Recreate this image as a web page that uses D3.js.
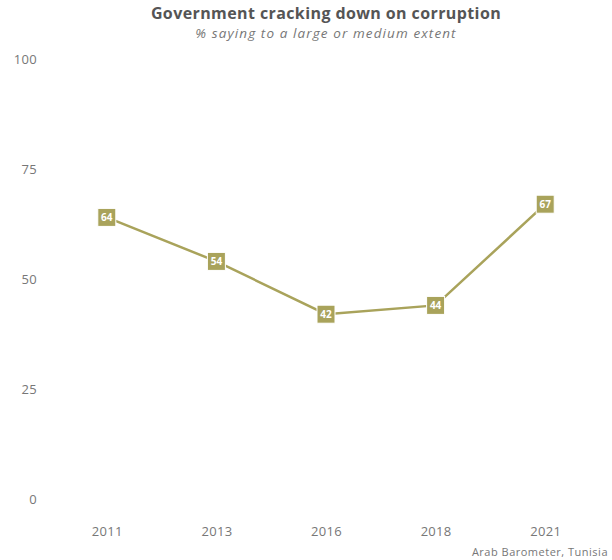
<!DOCTYPE html>
<html>
<head>
<meta charset="utf-8">
<script src="https://cdn.jsdelivr.net/npm/d3@7"></script>
<style>
    body { margin: 0; background: #ffffff; }
    text { font-family: "Open Sans", "Lato", sans-serif; }
</style>
</head>
<body>
<svg id="chart"></svg>
<script>
// Data
let years = ["2011", "2013", "2016", "2018", "2021"];
let values = [64, 54, 42, 44, 67];
let yTicks = [0, 25, 50, 75, 100];

let width = 612;
let height = 560;

let margin = { top: 59, right: 12, bottom: 61, left: 52 };

let color = "#a9a35b";

let svg = d3.select("#chart")
    .attr("width", width)
    .attr("height", height);

// Scales
let xScale = d3.scalePoint()
    .domain(years)
    .range([margin.left, width - margin.right])
    .padding(0.5);

let yScale = d3.scaleLinear()
    .domain([0, 100])
    .range([height - margin.bottom, margin.top]);

// Y axis (labels only)
let yAxis = svg.append("g")
    .attr("transform", `translate(${margin.left - 15}, 0)`)
    .call(d3.axisLeft(yScale).tickValues(yTicks).tickSize(0).tickPadding(0));
yAxis.select(".domain").remove();
yAxis.selectAll("text")
    .attr("fill", "#777")
    .style("font-size", "13px")
    .style("letter-spacing", "0.3px")
    .attr("dy", "0.32em");

// X axis (labels only)
let xAxis = svg.append("g")
    .attr("transform", `translate(0, ${height - margin.bottom + 33})`)
    .call(d3.axisBottom(xScale).tickSize(0).tickPadding(0));
xAxis.select(".domain").remove();
xAxis.selectAll("text")
    .attr("fill", "#777")
    .style("font-size", "13px")
    .style("letter-spacing", "0.3px")
    .attr("dy", "0.32em");

// Line
let line = d3.line()
    .x((d, i) => xScale(years[i]))
    .y(d => yScale(d));

svg.append("path")
    .datum(values)
    .attr("d", line)
    .attr("fill", "none")
    .attr("stroke", color)
    .attr("stroke-width", 2.5);

// Markers
let size = 18;
svg.selectAll(".marker")
    .data(values)
    .enter().append("rect")
    .attr("class", "marker")
    .attr("x", (d, i) => xScale(years[i]) - size / 2)
    .attr("y", d => yScale(d) - size / 2)
    .attr("width", size)
    .attr("height", size)
    .attr("fill", color)
    .attr("stroke", "#ffffff")
    .attr("stroke-width", 1);

svg.selectAll(".value-label")
    .data(values)
    .enter().append("text")
    .attr("class", "value-label")
    .attr("x", (d, i) => xScale(years[i]))
    .attr("y", d => yScale(d))
    .attr("dy", "0.36em")
    .attr("text-anchor", "middle")
    .attr("fill", "#ffffff")
    .style("font-size", "10px")
    .style("font-weight", "bold")
    .text(d => d);

// Titles
let cx = (margin.left + width - margin.right) / 2;
svg.append("text")
    .attr("x", cx)
    .attr("y", 19)
    .attr("text-anchor", "middle")
    .attr("fill", "#555")
    .style("font-size", "16px")
    .style("font-weight", "bold")
    .style("letter-spacing", "0.4px")
    .text("Government cracking down on corruption");

svg.append("text")
    .attr("x", cx)
    .attr("y", 38)
    .attr("text-anchor", "middle")
    .attr("fill", "#777")
    .style("font-size", "13.5px")
    .style("font-style", "italic")
    .style("letter-spacing", "1.1px")
    .text("% saying to a large or medium extent");

// Source
svg.append("text")
    .attr("x", width - 4)
    .attr("y", 556)
    .attr("text-anchor", "end")
    .attr("fill", "#777")
    .style("font-size", "11px")
    .style("letter-spacing", "0.5px")
    .text("Arab Barometer, Tunisia");
</script>
</body>
</html>
